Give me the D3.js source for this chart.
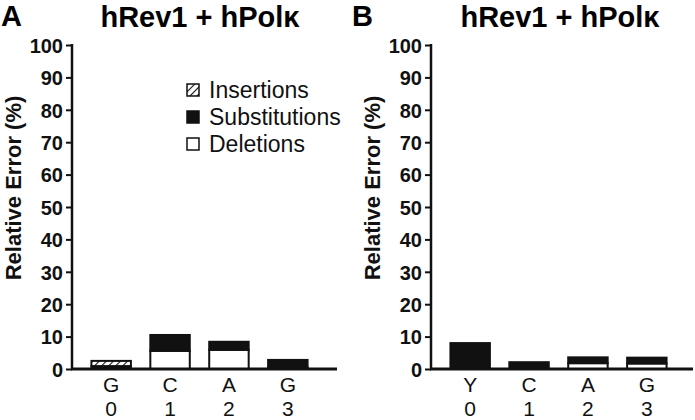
<!DOCTYPE html>
<html>
<head>
<meta charset="utf-8">
<script src="https://cdn.jsdelivr.net/npm/d3@7"></script>
<style>
  body { margin: 0; background: #fff; }
  svg { display: block; font-family: "Liberation Sans", Arial, Helvetica, sans-serif; }
</style>
</head>
<body>
<svg id="chart" width="695" height="420"></svg>
<script>
// Chart data
const title = 'hRev1 + hPolκ';
const yTicks = [0, 10, 20, 30, 40, 50, 60, 70, 80, 90, 100];
const positions = ['0', '1', '2', '3'];

const basesA = ['G', 'C', 'A', 'G'];
const deletionsA = [0, 5.6, 5.9, 0.5];
const substitutionsA = [0.9, 4.9, 2.5, 2.3];
const insertionsA = [1.6, 0, 0, 0];

const basesB = ['Y', 'C', 'A', 'G'];
const deletionsB = [0, 0, 1.8, 1.7];
const substitutionsB = [8.0, 2.1, 1.8, 1.8];
const insertionsB = [0, 0, 0, 0];

const legendItems = ['Insertions', 'Substitutions', 'Deletions'];

const svg = d3.select('#chart');

// hatch pattern for insertions
svg.append('defs').append('pattern')
    .attr('id', 'hatch')
    .attr('patternUnits', 'userSpaceOnUse')
    .attr('width', 5)
    .attr('height', 5)
    .attr('patternTransform', 'rotate(45)')
  .call(p => {
    p.append('rect').attr('width', 5).attr('height', 5).attr('fill', '#fff');
    p.append('line').attr('x1', 0).attr('y1', 0).attr('x2', 0).attr('y2', 5)
      .attr('stroke', '#111').attr('stroke-width', 2.2);
  });

const fills = { ins: 'url(#hatch)', sub: '#111', del: '#fff' };

function drawPanel(opts) {
  const g = svg.append('g');
  const y = d3.scaleLinear().domain([0, 100]).range([369, 45]);
  const x = d3.scaleBand()
      .domain(d3.range(opts.bases.length))
      .range([opts.x0, opts.x0 + 255])
      .paddingInner(0.33)
      .paddingOuter(0.33);

  // panel letter and title
  g.append('text')
    .attr('x', opts.x0 - 71 + opts.letterDx)
    .attr('y', 26)
    .attr('font-size', 29)
    .attr('font-weight', 'bold')
    .text(opts.letter);
  g.append('text')
    .attr('x', opts.x0 + opts.titleDx)
    .attr('y', 27)
    .attr('text-anchor', 'middle')
    .attr('font-size', 29)
    .attr('font-weight', 'bold')
    .text(title);

  // y axis
  const yAxis = d3.axisLeft(y).tickValues(yTicks).tickSize(6).tickPadding(3);
  const ya = g.append('g')
    .attr('transform', `translate(${opts.x0},0)`)
    .call(yAxis);
  ya.select('.domain').remove();
  ya.append('line')
    .attr('x1', 0).attr('x2', 0)
    .attr('y1', y(100) - 1).attr('y2', y(0))
    .attr('stroke', '#111').attr('stroke-width', 2.5);
  ya.selectAll('.tick line').attr('stroke', '#111').attr('stroke-width', 2);
  ya.selectAll('.tick text')
    .attr('font-size', 20)
    .attr('font-weight', 'bold')
    .attr('font-family', '"Liberation Sans", Arial, sans-serif')
    .attr('fill', '#111')
    .attr('dy', '0.36em');

  // y label
  g.append('text')
    .attr('transform', `translate(${opts.x0 - 51},188) rotate(-90)`)
    .attr('text-anchor', 'middle')
    .attr('font-size', 22)
    .attr('font-weight', 'bold')
    .attr('fill', '#111')
    .text('Relative Error (%)');

  // stacked bars: deletions bottom, substitutions, insertions on top
  const rows = opts.bases.map((b, i) => ({
    i,
    parts: [
      { key: 'del', v0: 0, v1: opts.del[i] },
      { key: 'sub', v0: opts.del[i], v1: opts.del[i] + opts.sub[i] },
      { key: 'ins', v0: opts.del[i] + opts.sub[i], v1: opts.del[i] + opts.sub[i] + opts.ins[i] }
    ].filter(p => p.v1 > p.v0)
  }));

  g.selectAll('g.bar')
    .data(rows)
    .enter().append('g')
    .attr('class', 'bar')
    .each(function(d) {
      d3.select(this).selectAll('rect')
        .data(d.parts)
        .enter().append('rect')
        .attr('x', x(d.i))
        .attr('width', x.bandwidth())
        .attr('y', p => y(p.v1))
        .attr('height', p => y(p.v0) - y(p.v1))
        .attr('fill', p => fills[p.key])
        .attr('stroke', '#111')
        .attr('stroke-width', 2);
    });

  // x axis line
  g.append('line')
    .attr('x1', opts.x0 - 1).attr('x2', opts.x0 + opts.axisLen)
    .attr('y1', y(0)).attr('y2', y(0))
    .attr('stroke', '#111').attr('stroke-width', 3);

  // category labels: base on first line, position on second
  const lbl = g.selectAll('text.xlbl')
    .data(opts.bases)
    .enter().append('text')
    .attr('class', 'xlbl')
    .attr('text-anchor', 'middle')
    .attr('font-size', 21)
    .attr('fill', '#111');
  lbl.append('tspan')
    .attr('x', (d, i) => x(i) + x.bandwidth() / 2)
    .attr('y', 392)
    .text(d => d);
  lbl.append('tspan')
    .attr('x', (d, i) => x(i) + x.bandwidth() / 2)
    .attr('y', 416)
    .text((d, i) => positions[i]);

  return g;
}

drawPanel({
  letter: 'A', letterDx: 0, titleDx: 128, x0: 72, axisLen: 265,
  bases: basesA, del: deletionsA, sub: substitutionsA, ins: insertionsA
});
drawPanel({
  letter: 'B', letterDx: -8, titleDx: 129, x0: 431, axisLen: 262,
  bases: basesB, del: deletionsB, sub: substitutionsB, ins: insertionsB
});

// legend (panel A)
const legendFill = ['url(#hatch)', '#111', '#fff'];
const legend = svg.append('g').attr('transform', 'translate(187,84)');
const li = legend.selectAll('g')
  .data(legendItems)
  .enter().append('g')
  .attr('transform', (d, i) => `translate(0,${i * 27})`);
li.append('rect')
  .attr('width', 12).attr('height', 12)
  .attr('fill', (d, i) => legendFill[i])
  .attr('stroke', '#111').attr('stroke-width', 1.5);
li.append('text')
  .attr('x', 22)
  .attr('y', 14)
  .attr('font-size', 23)
  .attr('fill', '#111')
  .text(d => d);
</script>
</body>
</html>
